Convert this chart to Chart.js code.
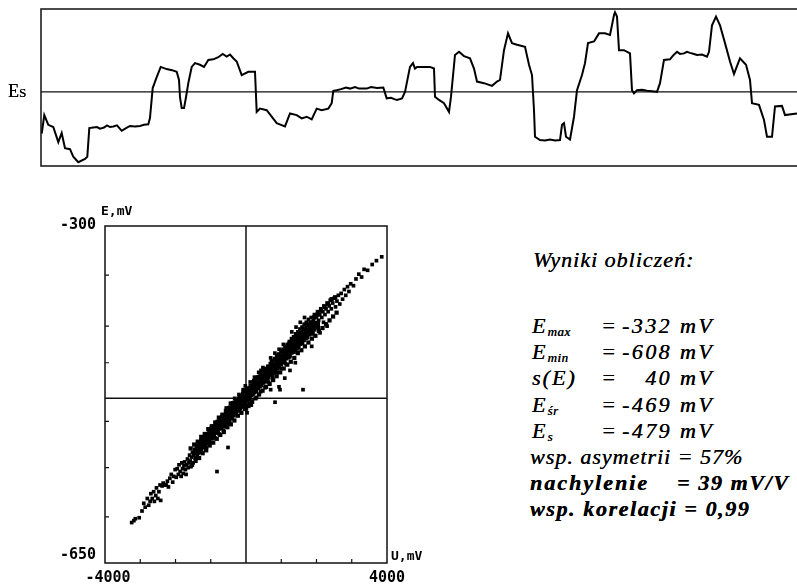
<!DOCTYPE html>
<html>
<head>
<meta charset="utf-8">
<script src="https://cdn.jsdelivr.net/npm/chart.js@4/dist/chart.umd.min.js"></script>
<style>
html,body{margin:0;padding:0;background:#fff;}
#wrap{position:relative;width:797px;height:584px;overflow:hidden;background:#fff;}
canvas{position:absolute;}
.t{position:absolute;white-space:nowrap;font-family:"Liberation Serif","Times New Roman",serif;font-style:italic;font-size:22px;line-height:22px;color:#000;letter-spacing:1px;text-shadow:0.3px 0 0 #000;}
.b{font-weight:bold;}
.lab{letter-spacing:2px;}
.val{letter-spacing:2.4px;}
.sub{font-size:13px;position:relative;top:3px;letter-spacing:0.5px;}
</style>
</head>
<body>
<div id="wrap">
<canvas id="top" width="797" height="180" style="left:0;top:0;width:797px;height:180px"></canvas>
<canvas id="sc" width="500" height="394" style="left:0;top:190px;width:500px;height:394px"></canvas>
<div class="t" style="left:8px;top:80px;font-style:normal;font-size:18px;letter-spacing:0;">E<span style="font-size:13px;">S</span></div>
<div id="res"></div>
</div>
<script>
// ---- data ----
const Es = -479;
// time series: [t, E (mV)]
const esTrace = [[0.7,-556],[3.3,-522],[7.3,-540],[12.3,-544],[17.3,-572],[20.7,-555],[24,-583],[29,-585],[32.3,-599],[37.3,-609],[44,-603],[46.3,-599],[48.3,-546],[52.3,-545],[56,-544],[59,-547],[63,-545],[66,-541],[69,-544],[72.3,-543],[76,-541],[80.7,-551],[85,-546],[89,-542],[94,-543],[99,-542],[103,-540],[107.3,-539],[109,-527],[111.7,-472],[115.7,-452],[119.7,-433],[125.7,-437],[131,-439],[135.7,-442],[138,-457],[139,-489],[140.7,-509],[143,-509],[145,-489],[147.3,-463],[150.7,-433],[154,-426],[159,-429],[163,-433],[167.3,-420],[172.3,-419],[177.3,-415],[181.7,-409],[185.7,-414],[189,-410],[192.3,-417],[195.7,-423],[200.7,-448],[207.3,-442],[214,-442],[215.7,-516],[219,-510],[225.7,-513],[230.7,-525],[235.7,-537],[240,-540],[244,-543],[249,-519],[255.7,-522],[260.7,-528],[265.7,-525],[270.7,-530],[275.7,-510],[280.7,-513],[287.3,-510],[290.7,-500],[292.3,-477],[295.7,-476],[300,-474],[305,-471],[309,-473],[314,-470],[318,-473],[325.7,-473],[330,-470],[336,-472],[342.3,-471],[345.7,-491],[350,-490],[354,-493],[356,-494],[361,-491],[364,-479],[369,-433],[372,-426],[374,-436],[376,-433],[389,-433],[393,-436],[394,-488],[398,-494],[403,-500],[408,-516],[410,-488],[414,-411],[418,-405],[423,-413],[429,-417],[433,-436],[436,-460],[443,-463],[451,-468],[456,-460],[459,-457],[463,-402],[467,-371],[471,-389],[476,-392],[484,-396],[488,-429],[491,-448],[493,-513],[494,-562],[499,-568],[504,-569],[509,-567],[514,-569],[519,-568],[521,-540],[523,-537],[525,-562],[529,-567],[533,-525],[536,-476],[541,-448],[544,-426],[547,-389],[553,-386],[558,-371],[564,-371],[569,-374],[573,-337],[574,-332],[576,-340],[578,-402],[583,-402],[589,-408],[591,-476],[593,-482],[596,-476],[601,-475],[606,-477],[611,-478],[616,-479],[619,-463],[623,-420],[629,-419],[632,-412],[636,-405],[639,-409],[643,-408],[646,-405],[649,-407],[653,-409],[656,-411],[661,-410],[666,-414],[668,-405],[671,-356],[675,-340],[679,-356],[684,-389],[689,-423],[693,-446],[699,-417],[705,-429],[709,-457],[711,-500],[718,-503],[723,-531],[726,-562],[731,-562],[734,-506],[741,-505],[744,-522],[756,-519]];

// scatter cloud: U (mV) and E (mV)
const scU = [-3243,-3180,-3140,-3030,-2950,-2900,-2860,-2800,-2760,-2720,-2700,-2660,-2620,-2600,-2560,-2540,-2500,-2470,-2440,-2420,
-2380,-2350,-2320,-2290,-2260,-2230,-2200,-2160,-2120,-2080,-2050,-2010,-1980,-1950,-1920,-1900,-1870,-1840,-1820,-1800,
-1780,-1760,-1740,-1720,-1700,-1680,-1660,-1640,-1620,-1600,-1580,-1560,-1540,-1520,-1500,-1480,-1460,-1440,-1420,-1400,-1380,-1360,-1340,-1320,-1300,-1280,-1260,-1240,-1220,-1200,
-1190,-1170,-1150,-1130,-1110,-1090,-1070,-1050,-1030,-1010,-990,-970,-950,-930,-910,-890,-870,-850,-830,-810,-790,-770,-750,-730,-710,-690,-670,-650,-630,-610,-1120,-1000,-880,-823,-760,-640,-510,
-590,-570,-550,-530,-510,-490,-470,-450,-430,-410,-390,-370,-350,-330,-310,-290,-270,-250,-230,-210,-190,-170,-150,-130,-110,-90,-70,-50,-30,-10,-580,-520,-460,-400,-340,-280,-220,-160,-100,-40,-560,-440,-320,-200,-80,-20,10,30,
10,30,50,70,90,110,130,150,170,190,210,230,250,270,290,310,330,350,370,390,410,430,450,470,490,510,530,550,570,590,60,180,300,420,540,120,240,360,480,150,100,
610,630,650,670,690,710,730,750,770,790,810,830,850,870,890,910,930,950,970,990,1010,1030,1050,1070,1090,1110,1130,1150,1170,1190,640,760,880,1000,1120,700,820,940,1060,823,965,1100,
1210,1230,1250,1270,1290,1310,1330,1350,1370,1390,1410,1430,1450,1470,1490,1510,1530,1550,1570,1590,1610,1630,1650,1670,1690,1710,1730,1750,1770,1790,1240,1360,1480,1600,1720,1300,1420,1540,1660,
1820,1850,1880,1910,1940,1970,2000,2030,2060,2090,2120,2150,2180,2210,2240,2270,2300,2330,2360,2390,1900,2050,2200,
2420,2460,2500,2540,2580,2620,2660,2700,2740,2790,2830,2880,2920,2970,
3050,3120,3200,3280,3350,3450,3580,3700,3850,
425,1617,1864,2099,936,1248,1400,2300,700];
const scE = [-608,-606,-604,-603,-596,-588,-592,-583,-590,-586,-578,-583,-576,-586,-580,-572,-583,-576,-569,-585,
-570,-567,-569,-569,-569,-565,-571,-562,-558,-566,-560,-553,-561,-552,-558,-548,-555,-560,-546,-552,
-557,-549,-545,-553,-558,-548,-542,-551,-546,-538,-544,-550,-540,-535,-546,-538,-532,-541,-535,-529,-538,-532,-526,-535,-529,-523,-532,-527,-521,-530,
-524,-518,-527,-521,-516,-524,-519,-513,-522,-516,-510,-520,-514,-508,-517,-511,-505,-515,-509,-503,-513,-507,-501,-510,-504,-498,-508,-502,-496,-505,-530,-525,-520,-555,-516,-512,-530,
-499,-494,-503,-497,-491,-500,-494,-488,-498,-492,-486,-495,-489,-483,-493,-487,-481,-490,-484,-479,-488,-482,-476,-486,-480,-474,-484,-478,-472,-482,-508,-505,-503,-500,-497,-494,-492,-490,-488,-486,-489,-484,-479,-475,-470,-466,-490,-494,
-477,-471,-480,-474,-468,-478,-472,-466,-475,-469,-463,-473,-467,-461,-470,-464,-458,-468,-462,-456,-465,-459,-453,-463,-457,-451,-460,-454,-448,-458,-486,-483,-478,-472,-468,-462,-457,-452,-447,-486,-484,
-452,-446,-455,-449,-443,-452,-446,-440,-450,-444,-438,-447,-441,-435,-445,-439,-433,-442,-436,-430,-440,-434,-428,-437,-431,-425,-435,-429,-423,-432,-462,-457,-452,-448,-443,-437,-432,-428,-423,-483,-470,-458,
-426,-420,-429,-423,-417,-427,-421,-415,-424,-418,-412,-422,-416,-410,-419,-413,-407,-417,-411,-405,-414,-408,-402,-412,-406,-400,-409,-403,-397,-407,-436,-431,-426,-421,-416,-410,-405,-400,-395,
-401,-395,-404,-398,-392,-401,-395,-389,-398,-392,-386,-395,-389,-383,-392,-386,-380,-389,-383,-377,-412,-406,-400,
-386,-380,-375,-384,-378,-372,-381,-370,-376,-366,-372,-363,-368,-360,
-362,-355,-350,-353,-345,-346,-340,-336,-332,
-450,-470,-425,-411,-467,-450,-442,-404,-470];
// dense core of the cloud: [U, E]
const scCore = [[-1400,-534],[-1350,-530],[-1300,-528],[-1250,-528],[-1200,-524],[-1150,-524],[-1100,-521],[-1050,-518],[-1000,-519],[-950,-515],[-900,-512],[-850,-513],[-800,-509],[-750,-508],[-700,-505],[-650,-505],[-600,-501],[-550,-500],[-500,-497],[-450,-497],[-400,-493],[-350,-492],[-300,-490],[-250,-489],[-200,-486],[-150,-485],[-100,-482],[-50,-481],[0,-479],[50,-478],[100,-474],[150,-473],[200,-471],[250,-470],[300,-467],[350,-465],[400,-464],[450,-461],[500,-460],[550,-457],[600,-456],[650,-453],[700,-452],[750,-451],[800,-448],[850,-446],[900,-445],[950,-442],[1000,-440],[1050,-439],[1100,-436],[1150,-435],[1200,-433],[1250,-430],[1300,-429],[1350,-427],[1400,-426],[1450,-423],[1500,-421],[1550,-420],[1600,-417],[1650,-415],[1700,-414],[1750,-411],[1800,-410],[1850,-407],[1900,-406],[1950,-403],[2000,-402]];
// upper and lower fringe of the band: [U, E]
const scUpper = [[-1570,-531],[-1470,-527],[-1370,-524],[-1270,-519],[-1170,-516],[-1070,-511],[-970,-508],[-870,-504],[-770,-499],[-670,-496],[-570,-492],[-470,-489],[-370,-484],[-270,-481],[-170,-477],[-70,-472],[30,-469],[130,-466],[230,-461],[330,-457],[430,-454],[530,-449],[630,-446],[730,-441],[830,-438],[930,-434],[1030,-430],[1130,-426],[1230,-422],[1330,-419],[1430,-414],[1530,-411],[1630,-407],[1730,-403],[1830,-400],[1930,-395],[2030,-392],[2130,-388],[2230,-384],[2330,-381],[2430,-376],[2530,-374]];
const scLower = [[-1530,-548],[-1430,-544],[-1330,-541],[-1230,-536],[-1130,-533],[-1030,-528],[-930,-525],[-830,-521],[-730,-517],[-630,-514],[-530,-509],[-430,-506],[-330,-502],[-230,-497],[-130,-494],[-30,-490],[70,-487],[170,-482],[270,-479],[370,-475],[470,-471],[570,-467],[670,-464],[770,-460],[870,-456],[970,-452],[1070,-448],[1170,-444],[1270,-441],[1370,-437],[1470,-432],[1570,-429],[1670,-425],[1770,-421],[1870,-417],[1970,-414],[2070,-409],[2170,-406],[2270,-402],[2370,-398],[2470,-394],[2570,-390]];

const xTickMarks = [-3000,-2000,-1000,1000,2000,3000];
const yTickMarks = [-351,-404,-442,-503,-551,-602];
const xLabels = [-4000, 4000];
const yLabels = [-300, -650];

const results = [
  {lab:'E', sub:'max', val:'-332 mV'},
  {lab:'E', sub:'min', val:'-608 mV'},
  {lab:'s(E)', sub:'', val:'40 mV'},
  {lab:'E', sub:'śr', val:'-469 mV'},
  {lab:'E', sub:'s', val:'-479 mV'}
];

// ---- top time series ----
const frameTop = {
  id:'frameTop',
  afterDatasetsDraw(chart){
    const {ctx, chartArea:a} = chart;
    ctx.save();
    ctx.strokeStyle='#111'; ctx.lineWidth=1.5;
    ctx.beginPath();
    ctx.moveTo(a.right, a.top); ctx.lineTo(a.left, a.top); ctx.lineTo(a.left, a.bottom); ctx.lineTo(a.right, a.bottom);
    ctx.stroke();
    ctx.restore();
  }
};
new Chart(document.getElementById('top'), {
  type:'line',
  data:{datasets:[
    {data: esTrace.map(p=>({x:p[0],y:p[1]})), borderColor:'#000', borderWidth:2, pointRadius:0, tension:0},
    {data:[{x:0,y:Es},{x:756,y:Es}], borderColor:'#111', borderWidth:1.3, pointRadius:0}
  ]},
  options:{
    responsive:false, animation:false, devicePixelRatio:1,
    layout:{padding:{left:41, top:9, right:0, bottom:14}},
    scales:{x:{type:'linear', min:0, max:756, display:false}, y:{min:-616, max:-326, display:false}},
    plugins:{legend:{display:false}, tooltip:{enabled:false}}
  },
  plugins:[frameTop]
});

// ---- scatter ----
const frameSc = {
  id:'frameSc',
  afterDatasetsDraw(chart){
    const {ctx, chartArea:a, scales:{x, y}} = chart;
    ctx.save();
    ctx.strokeStyle='#111'; ctx.lineWidth=1.5;
    ctx.strokeRect(a.left, a.top, a.right-a.left, a.bottom-a.top);
    ctx.lineWidth=1.2;
    ctx.beginPath();
    xTickMarks.forEach(v=>{const px=x.getPixelForValue(v); ctx.moveTo(px,a.bottom); ctx.lineTo(px,a.bottom-4);});
    yTickMarks.forEach(v=>{const py=y.getPixelForValue(v); ctx.moveTo(a.left,py); ctx.lineTo(a.left+4,py);});
    ctx.stroke();
    ctx.fillStyle='#000';
    ctx.font='bold 15px "DejaVu Sans Mono", monospace';
    ctx.textAlign='right'; ctx.textBaseline='middle';
    ctx.fillText(String(yLabels[0]), a.left-9, y.getPixelForValue(yLabels[0])-1);
    ctx.textBaseline='bottom';
    ctx.fillText(String(yLabels[1]), a.left-9, y.getPixelForValue(yLabels[1]));
    ctx.textAlign='center'; ctx.textBaseline='top';
    ctx.fillText(String(xLabels[0]), x.getPixelForValue(xLabels[0])+3, a.bottom+8);
    ctx.fillText(String(xLabels[1]), x.getPixelForValue(xLabels[1]), a.bottom+8);
    ctx.font='bold 13px "DejaVu Sans Mono", monospace';
    ctx.textAlign='left'; ctx.textBaseline='bottom';
    ctx.fillText('E,mV', a.left-4, a.top-8);
    ctx.fillText('U,mV', a.right+4, a.bottom);
    ctx.restore();
  }
};
const toXY = arr => arr.map(p=>({x:p[0],y:p[1]}));
new Chart(document.getElementById('sc'), {
  type:'scatter',
  data:{datasets:[
    {data: scU.map((u,i)=>({x:u,y:scE[i]})), pointStyle:'rect', pointRadius:2.6, backgroundColor:'#000', borderWidth:0, showLine:false},
    {data: toXY(scCore), pointStyle:'rect', pointRadius:5, backgroundColor:'#000', borderWidth:0, showLine:false},
    {data: toXY(scUpper), pointStyle:'rect', pointRadius:3, backgroundColor:'#000', borderWidth:0, showLine:false},
    {data: toXY(scLower), pointStyle:'rect', pointRadius:3, backgroundColor:'#000', borderWidth:0, showLine:false},
    {data:[{x:0,y:-300},{x:0,y:-650}], showLine:true, borderColor:'#111', borderWidth:1.5, pointRadius:0},
    {data:[{x:-4000,y:Es},{x:4000,y:Es}], showLine:true, borderColor:'#111', borderWidth:1.5, pointRadius:0}
  ]},
  options:{
    responsive:false, animation:false, devicePixelRatio:1,
    layout:{padding:{left:105, top:36, right:113, bottom:21}},
    scales:{x:{type:'linear', min:-4000, max:4000, display:false}, y:{min:-650, max:-300, display:false}},
    plugins:{legend:{display:false}, tooltip:{enabled:false}}
  },
  plugins:[frameSc]
});

// ---- results text ----
const res = document.getElementById('res');
function addDiv(html, left, baseline, cls, right){
  const d=document.createElement('div');
  d.className='t '+(cls||'');
  d.innerHTML=html;
  d.style.top=(baseline-18)+'px';
  if(right!==undefined){d.style.right=(797-right)+'px';} else {d.style.left=left+'px';}
  res.appendChild(d);
  return d;
}
addDiv('Wyniki obliczeń:', 533, 267);
const base0 = 333, step = 26.2;
results.forEach((r,i)=>{
  const bl = base0 + i*step;
  addDiv(r.lab + (r.sub?'<span class="sub">'+r.sub+'</span>':''), 532, bl, 'lab');
  addDiv('=', 601, bl);
  addDiv(r.val, 0, bl, 'val', 714);
});
addDiv('wsp. asymetrii = 57%', 530, 464);
addDiv('nachylenie', 530, 490, 'b').style.letterSpacing='2px';
addDiv('= 39 mV/V', 677, 490, 'b').style.letterSpacing='1.6px';
addDiv('wsp. korelacji = 0,99', 530, 516, 'b').style.letterSpacing='1.6px';
</script>
</body>
</html>
